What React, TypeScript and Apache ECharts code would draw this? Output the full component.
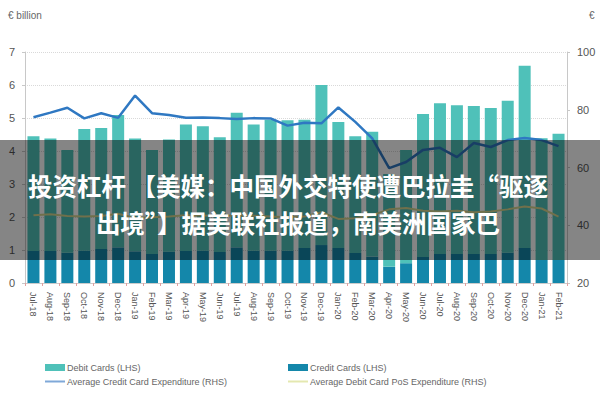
import React, { useEffect, useRef } from "react";
import * as echarts from "echarts";

const months = [
  "Jul-18", "Aug-18", "Sep-18", "Oct-18", "Nov-18", "Dec-18",
  "Jan-19", "Feb-19", "Mar-19", "Apr-19", "May-19", "Jun-19", "Jul-19", "Aug-19", "Sep-19", "Oct-19", "Nov-19", "Dec-19",
  "Jan-20", "Feb-20", "Mar-20", "Apr-20", "May-20", "Jun-20", "Jul-20", "Aug-20", "Sep-20", "Oct-20", "Nov-20", "Dec-20",
  "Jan-21", "Feb-21",
];

// € billion (LHS), stacked: credit at the bottom, debit on top
const creditCards = [
  0.97, 0.97, 0.92, 0.98, 1.03, 1.08,
  0.96, 0.88, 0.95, 0.97, 0.98, 0.94, 1.08, 0.98, 0.98, 0.98, 1.06, 1.15,
  1.06, 0.91, 0.80, 0.49, 0.60, 0.79, 0.88, 0.88, 0.88, 0.88, 0.92, 1.06,
  0.70, 0.70,
];
const debitCards = [
  3.48, 3.41, 3.11, 3.69, 3.67, 4.01,
  3.42, 3.15, 3.40, 3.83, 3.77, 3.48, 4.08, 3.82, 3.97, 3.95, 3.89, 4.85,
  3.82, 3.54, 3.78, 2.81, 3.43, 4.33, 4.57, 4.51, 4.48, 4.42, 4.60, 5.52,
  3.69, 3.82,
];

// € (RHS)
const avgCreditExp = [
  77.4, 79.0, 80.7, 77.0, 78.8, 77.2,
  84.9, 78.8, 78.2, 77.2, 77.3, 77.1, 76.8, 77.1, 77.0, 74.5, 75.5, 75.3,
  80.8, 75.8, 70.1, 59.8, 61.9, 66.1, 66.8, 63.6, 68.5, 67.1, 69.5, 70.2,
  69.5, 67.4,
];
const avgDebitPosExp = [
  43.5, 43.8, 43.2, 43.0, 43.2, 44.0,
  42.5, 42.8, 43.0, 43.5, 43.4, 43.2, 43.5, 43.3, 43.0, 42.8, 43.0, 44.5,
  42.2, 42.4, 43.5, 45.5, 46.0, 45.0, 44.8, 45.0, 44.5, 44.8, 45.5, 46.5,
  45.8, 43.0,
];

const leftTicks = { min: 0, max: 7, interval: 1 };
const rightTicks = { min: 20, max: 100, interval: 20 };

const overlayLine1 = "投资杠杆 【美媒：中国外交特使遭巴拉圭“驱逐";
const overlayLine2 = "出境”】据美联社报道，南美洲国家巴";

const NAMES = {
  debit: "Debit Cards (LHS)",
  credit: "Credit Cards (LHS)",
  cExp: "Average Credit Card Expenditure (RHS)",
  dExp: "Average Debit Card PoS Expenditure (RHS)",
};

const LINE_ICON = "path://M0,0H20V2H0Z";

export default function App() {
  const ref = useRef<HTMLDivElement>(null);

  useEffect(() => {
    if (!ref.current) return;
    const chart = echarts.init(ref.current, undefined, { renderer: "svg" });
    const font = "Liberation Sans";
    const labelColor = "#555";
    const legendCommon = {
      orient: "vertical",
      top: 358,
      itemWidth: 20,
      itemHeight: 7,
      itemGap: 5,
      textStyle: { fontSize: 9, color: "#666", fontFamily: font, padding: [0, 0, 0, -3] },
    };
    chart.setOption({
      animation: false,
      backgroundColor: "#ffffff",
      textStyle: { fontFamily: font },
      grid: { left: 25, right: 33, top: 52, bottom: 117, containLabel: false },
      legend: [
        {
          ...legendCommon,
          left: 40,
          data: [
            { name: NAMES.debit, icon: "rect" },
            { name: NAMES.cExp, icon: LINE_ICON },
          ],
        },
        {
          ...legendCommon,
          left: 283,
          data: [
            { name: NAMES.credit, icon: "rect" },
            { name: NAMES.dExp, icon: LINE_ICON },
          ],
        },
      ],
      xAxis: {
        type: "category",
        data: months,
        axisLine: { lineStyle: { color: "#cccccc" } },
        axisTick: { show: true, length: 3, lineStyle: { color: "#e3a0a0" } },
        axisLabel: {
          rotate: -90,
          fontSize: 9,
          color: labelColor,
          margin: 9,
          interval: 0,
        },
      },
      yAxis: [
        {
          type: "value",
          ...leftTicks,
          position: "left",
          axisLine: { show: true, lineStyle: { color: "#c8c8c8" } },
          axisTick: { show: true, length: 3, lineStyle: { color: "#c8c8c8" } },
          axisLabel: { fontSize: 11, color: labelColor, margin: 10 },
          splitLine: { show: true, lineStyle: { color: "#d9d9d9", type: "dotted" } },
        },
        {
          type: "value",
          ...rightTicks,
          position: "right",
          axisLine: { show: true, lineStyle: { color: "#c8c8c8" } },
          axisTick: { show: true, length: 3, lineStyle: { color: "#c8c8c8" } },
          axisLabel: { fontSize: 11, color: labelColor, margin: 10 },
          splitLine: { show: false },
        },
      ],
      series: [
        {
          name: NAMES.credit,
          type: "bar",
          stack: "cards",
          barWidth: 12,
          data: creditCards,
          itemStyle: { color: "#1487aa" },
        },
        {
          name: NAMES.debit,
          type: "bar",
          stack: "cards",
          barWidth: 12,
          data: debitCards,
          itemStyle: { color: "#4fc1b9" },
        },
        {
          name: NAMES.cExp,
          type: "line",
          yAxisIndex: 1,
          data: avgCreditExp,
          symbol: "none",
          lineStyle: { color: "#2f78c2", width: 2.5 },
          itemStyle: { color: "#7fa8d8" },
          z: 5,
        },
        {
          name: NAMES.dExp,
          type: "line",
          yAxisIndex: 1,
          data: avgDebitPosExp,
          symbol: "none",
          lineStyle: { color: "#d6d690", width: 2 },
          itemStyle: { color: "#e4e8b0" },
          z: 4,
        },
      ],
      graphic: [
        {
          type: "text",
          left: 8,
          top: 10,
          style: { text: "€ billion", fontSize: 10, fill: "#666", fontFamily: font },
        },
        {
          type: "text",
          left: 589,
          top: 10,
          style: { text: "€", fontSize: 10, fill: "#666", fontFamily: font },
        },
        {
          type: "rect",
          z: 100,
          shape: { x: 0, y: 140, width: 600, height: 120 },
          style: { fill: "rgba(0,0,0,0.48)" },
        },
        {
          type: "text",
          z: 101,
          x: 28,
          y: 185,
          style: {
            text: overlayLine1,
            fill: "#ffffff",
            fontSize: 24.5,
            fontWeight: "bold",
            fontFamily: "Noto Sans CJK SC",
            align: "left",
            verticalAlign: "middle",
          },
        },
        {
          type: "text",
          z: 101,
          x: 298,
          y: 222,
          style: {
            text: overlayLine2,
            fill: "#ffffff",
            fontSize: 24.5,
            fontWeight: "bold",
            fontFamily: "Noto Sans CJK SC",
            align: "center",
            verticalAlign: "middle",
          },
        },
      ],
    });
    return () => chart.dispose();
  }, []);

  return (
    <div
      ref={ref}
      style={{ position: "fixed", left: 0, top: 0, width: 600, height: 400, background: "#fff" }}
    />
  );
}
